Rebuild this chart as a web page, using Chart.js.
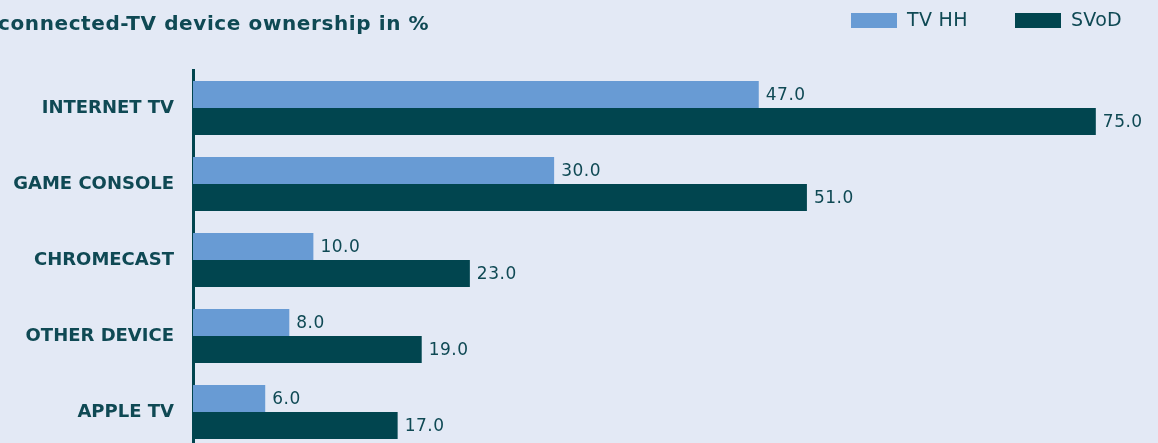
<!DOCTYPE html>
<html>
<head>
<meta charset="utf-8">
<script src="https://cdn.jsdelivr.net/npm/chart.js@4"></script>
<style>
    html, body { margin: 0; padding: 0; background: #e3e9f5; overflow: hidden; }
    canvas { display: block; }
</style>
</head>
<body>
<canvas id="deviceChart" width="1158" height="450"></canvas>
<script>
    const categories = ['INTERNET TV', 'GAME CONSOLE', 'CHROMECAST', 'OTHER DEVICE', 'APPLE TV'];
    const tvHH = [47.0, 30.0, 10.0, 8.0, 6.0];
    const svod = [75.0, 51.0, 23.0, 19.0, 17.0];
    const seriesNames = ['TV HH', 'SVoD'];

    const textColor = '#0f4954';
    const lightBlue = '#689bd4';
    const darkTeal = '#01454f';

    // title + legend drawn by hand (title is cut off on the left in the original)
    const headerPlugin = {
        id: 'header',
        afterDraw(chart) {
            const ctx = chart.ctx;
            ctx.save();
            ctx.fillStyle = textColor;
            ctx.font = 'bold 20px "DejaVu Sans"';
            ctx.letterSpacing = '0.6px';
            ctx.textBaseline = 'alphabetic';
            ctx.textAlign = 'left';
            ctx.fillText('connected-TV device ownership in %', -2, 30);

            const items = [
                { x: 851, color: lightBlue, label: seriesNames[0] },
                { x: 1015, color: darkTeal, label: seriesNames[1] }
            ];
            ctx.font = '19px "DejaVu Sans"';
            ctx.letterSpacing = '0.3px';
            ctx.textBaseline = 'middle';
            items.forEach(it => {
                ctx.fillStyle = it.color;
                ctx.fillRect(it.x, 13, 46, 15);
                ctx.fillStyle = textColor;
                ctx.fillText(it.label, it.x + 56, 21);
            });
            ctx.restore();
        }
    };

    const valueLabels = {
        id: 'valueLabels',
        afterDatasetsDraw(chart) {
            const ctx = chart.ctx;
            ctx.save();
            ctx.fillStyle = textColor;
            ctx.font = '17px "DejaVu Sans"';
            ctx.letterSpacing = '0.5px';
            ctx.textAlign = 'left';
            ctx.textBaseline = 'middle';
            chart.data.datasets.forEach((ds, i) => {
                chart.getDatasetMeta(i).data.forEach((bar, j) => {
                    ctx.fillText(ds.data[j].toFixed(1), bar.x + 7, bar.y + 1);
                });
            });
            ctx.restore();
        }
    };

    const ctx = document.getElementById('deviceChart').getContext('2d');
    new Chart(ctx, {
        type: 'bar',
        data: {
            labels: categories,
            datasets: [
                { label: seriesNames[0], data: tvHH, backgroundColor: lightBlue },
                { label: seriesNames[1], data: svod, backgroundColor: darkTeal }
            ]
        },
        options: {
            indexAxis: 'y',
            responsive: false,
            animation: false,
            datasets: {
                bar: { categoryPercentage: 0.71, barPercentage: 1.0 }
            },
            layout: { padding: { top: 70, right: 2, bottom: 0, left: 0 } },
            plugins: {
                legend: { display: false },
                title: { display: false },
                tooltip: { enabled: false }
            },
            scales: {
                x: {
                    display: false,
                    min: 0,
                    max: 80
                },
                y: {
                    grid: { display: false, drawTicks: false },
                    border: { display: true, color: darkTeal, width: 3 },
                    ticks: {
                        color: textColor,
                        padding: 19,
                        font: { family: 'DejaVu Sans', size: 18, weight: 'bold', lineHeight: 1.0 }
                    },
                    afterFit(scale) {
                        scale.width = 193;
                        // the last category runs off the bottom edge, no label padding wanted
                        scale.paddingTop = 0;
                        scale.paddingBottom = 0;
                    }
                }
            }
        },
        plugins: [headerPlugin, valueLabels]
    });
</script>
</body>
</html>
